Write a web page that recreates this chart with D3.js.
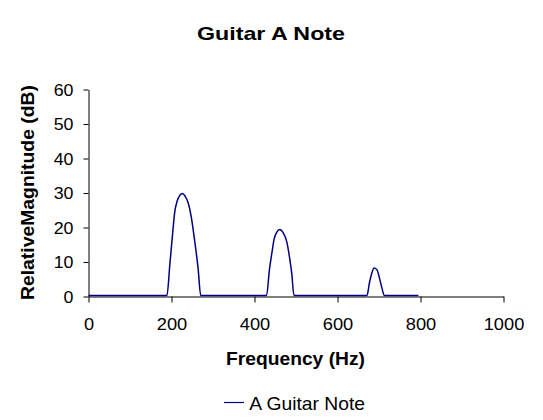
<!DOCTYPE html>
<html>
<head>
<meta charset="utf-8">
<script src="https://cdn.jsdelivr.net/npm/d3@7"></script>
<style>
  html, body { margin: 0; padding: 0; background: #fff; }
  svg { display: block; font-family: "Liberation Sans", Arial, sans-serif; }
</style>
</head>
<body>
<svg id="chart" width="543" height="420"></svg>
<script>
// ---- data ----
const title = "Guitar A Note";
const xLabel = "Frequency (Hz)";
const yLabel = "RelativeMagnitude (dB)";
const seriesName = "A Guitar Note";
const xTicks = [0, 200, 400, 600, 800, 1000];
const yTicks = [0, 10, 20, 30, 40, 50, 60];
const frequency = [0, 189, 196, 202.5, 208, 213.5, 220, 226.5, 232.7, 240, 248, 256, 264, 270.5,
                   429, 436, 442, 447, 453.5, 461, 469, 477.5, 484, 490, 495,
                   671, 677, 683, 688, 695, 701, 707, 712.6, 795];
const magnitude = [0, 0, 9.0, 17.7, 24.4, 27.3, 29.0, 29.6, 28.8, 26.9, 22.5, 15.7, 8.0, 0,
                   0, 7.5, 12.4, 16.2, 18.3, 19.1, 18.2, 15.7, 11.4, 6.1, 0,
                   0, 3.7, 6.6, 8.0, 7.5, 5.1, 2.2, 0, 0];

const svg = d3.select("#chart");
const x = d3.scaleLinear().domain([0, 1000]).range([88.5, 503.5]);
const y = d3.scaleLinear().domain([0, 60]).range([296.5, 89.5]);

// title
svg.append("text").attr("x", 197).attr("y", 39.5)
  .attr("font-size", 18.5).attr("font-weight", "bold")
  .attr("textLength", 148).attr("lengthAdjust", "spacingAndGlyphs")
  .text(title);

function stretch(sel, perChar) {
  sel.each(function() {
    const t = d3.select(this);
    const n = t.text().length;
    t.attr("textLength", n * perChar).attr("lengthAdjust", "spacingAndGlyphs");
  });
}

// x axis
const gx = svg.append("g").attr("transform", `translate(0,${y(0)})`)
  .call(d3.axisBottom(x).tickValues(xTicks).tickSize(6).tickSizeOuter(0).tickFormat(d3.format("d")));
gx.select(".domain").attr("stroke", "#000");
gx.selectAll(".tick line").attr("stroke", "#000");
gx.selectAll(".tick text").attr("font-size", 16.5).attr("font-family", "Liberation Sans, Arial, sans-serif")
  .attr("fill", "#000").attr("y", 33.5).attr("dy", 0).call(stretch, 10.15);

// y axis
const gy = svg.append("g").attr("transform", `translate(${x(0)},0)`)
  .call(d3.axisLeft(y).tickValues(yTicks).tickSize(5).tickSizeOuter(0).tickFormat(d3.format("d")));
gy.select(".domain").attr("stroke", "#000");
gy.selectAll(".tick line").attr("stroke", "#000");
gy.selectAll(".tick text").attr("font-size", 16.5).attr("font-family", "Liberation Sans, Arial, sans-serif")
  .attr("fill", "#000").attr("x", -15).attr("dy", "0.36em").call(stretch, 9.9);

// axis labels
svg.append("text").attr("x", 226).attr("y", 365)
  .attr("font-size", 18.5).attr("font-weight", "bold")
  .attr("textLength", 139).attr("lengthAdjust", "spacingAndGlyphs")
  .text(xLabel);
svg.append("text").attr("transform", "translate(33.5,300) rotate(-90)")
  .attr("font-size", 17.5).attr("font-weight", "bold")
  .attr("textLength", 215).attr("lengthAdjust", "spacingAndGlyphs")
  .text(yLabel);

// series line
const pts = frequency.map((f, i) => [f, magnitude[i]]);
const line = d3.line().x(d => x(d[0])).y(d => y(d[1]) - 1).curve(d3.curveMonotoneX);
svg.append("path").datum(pts).attr("d", line)
  .attr("fill", "none").attr("stroke", "#000080").attr("stroke-width", 1.5);

// legend
svg.append("line").attr("x1", 224).attr("x2", 244).attr("y1", 402.5).attr("y2", 402.5)
  .attr("stroke", "#000080").attr("stroke-width", 1.2);
svg.append("text").attr("x", 249.3).attr("y", 410)
  .attr("font-size", 18.5)
  .attr("textLength", 115.7).attr("lengthAdjust", "spacingAndGlyphs")
  .text(seriesName);
</script>
</body>
</html>
